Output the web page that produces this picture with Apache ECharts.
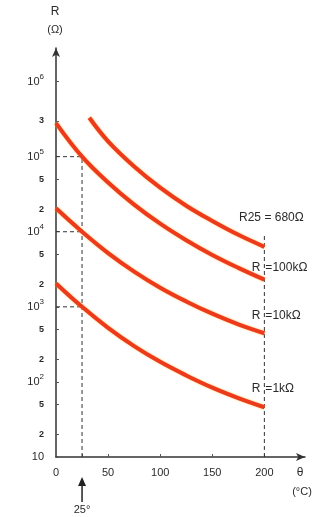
<!DOCTYPE html>
<html>
<head>
<meta charset="utf-8">
<script src="https://cdn.jsdelivr.net/npm/echarts@6/dist/echarts.min.js"></script>
<style>
html,body{margin:0;padding:0;background:#fff;}
#c{width:320px;height:517px;}
</style>
</head>
<body>
<div id="c"></div>
<script>
// temperatures (°C)
var temps = [0, 25, 50, 75, 100, 125, 150, 175, 200];
var tempsTop = [32, 50, 75, 100, 125, 150, 175, 200];
// resistance values (Ω)
var r680 = [330000, 160000, 74000, 38600, 22200, 13900, 9100, 6300];
var r100k = [280000, 100000, 45300, 23000, 12800, 7700, 4900, 3300, 2300];
var r10k = [20500, 10000, 5200, 2950, 1800, 1180, 810, 585, 445];
var r1k = [2050, 1000, 525, 300, 185, 122, 84, 61, 46];
// tick values and labels (base / exponent)
var yTickValues = [10, 20, 50, 100, 200, 500, 1000, 2000, 5000, 10000, 20000, 50000, 100000, 300000, 1000000];
var yTickBase = ['10', '2', '5', '10', '2', '5', '10', '2', '5', '10', '2', '5', '10', '3', '10'];
var yTickExp = ['', '', '', '2', '', '', '3', '', '', '4', '', '', '5', '', '6'];
var xTickValues = [0, 50, 100, 150, 200];
var xTickLabels = ['0', '50', '100', '150', '200'];
var seriesLabels = ['R25 = 680Ω', 'R =100kΩ', 'R =10kΩ', 'R =1kΩ'];

function pairs(xs, ys) { return xs.map(function (x, i) { return [x, ys[i]]; }); }

var curveStyle = {
  color: '#ee3a1c', width: 4,
  shadowColor: 'rgba(255,170,40,0.8)', shadowBlur: 2
};
function curve(data) {
  return { type: 'line', data: data, smooth: 0.4, symbol: 'none', lineStyle: curveStyle, z: 3, silent: true };
}
var dashStyle = { color: '#333', width: 1, type: [4, 3] };
function dash(data) {
  return { type: 'line', data: data, symbol: 'none', lineStyle: dashStyle, z: 2, silent: true };
}

var chart = echarts.init(document.getElementById('c'), null, { renderer: 'canvas' });
var txt = '#2a2a2a';
var font = 'Liberation Sans, Arial, sans-serif';

chart.setOption({
  animation: false,
  backgroundColor: '#fff',
  grid: { left: 56, right: 15, top: 48, bottom: 60 },
  xAxis: {
    type: 'value', min: 0, max: 239,
    axisLine: { show: true, lineStyle: { color: '#333', width: 1.5 }, symbol: ['none', 'arrow'], symbolSize: [6, 9] },
    axisTick: { show: true, inside: true, length: 3, customValues: [25, 50, 100, 150, 200], lineStyle: { color: '#555' } },
    axisLabel: {
      customValues: xTickValues, margin: 10, color: txt, fontSize: 11, fontFamily: font,
      formatter: function (v) { var i = xTickValues.indexOf(v); return i >= 0 ? xTickLabels[i] : ''; }
    },
    splitLine: { show: false }
  },
  yAxis: {
    type: 'log', logBase: 10, min: 10, max: 2800000,
    axisLine: { show: true, lineStyle: { color: '#333', width: 1.5 }, symbol: ['none', 'arrow'], symbolSize: [6, 9] },
    axisTick: { show: true, inside: true, length: 3, customValues: yTickValues, lineStyle: { color: '#555' } },
    axisLabel: {
      customValues: yTickValues, margin: 12, color: txt, fontFamily: font,
      formatter: function (v) {
        for (var i = 0; i < yTickValues.length; i++) {
          if (Math.abs(yTickValues[i] - v) / yTickValues[i] < 1e-6) {
            if (yTickExp[i]) return '{b|' + yTickBase[i] + '}{s|' + yTickExp[i] + '}';
            if (yTickBase[i] === '10') return '{b|10}';
            return '{m|' + yTickBase[i] + '}';
          }
        }
        return '';
      },
      rich: {
        b: { fontSize: 11, fontFamily: font, color: txt, lineHeight: 14 },
        s: { fontSize: 8, fontFamily: font, color: txt, verticalAlign: 'bottom', padding: [0, 0, 8, 0], lineHeight: 14 },
        m: { fontSize: 9, fontFamily: font, color: txt, fontWeight: 'bold', lineHeight: 14 }
      }
    },
    splitLine: { show: false }
  },
  series: [
    curve(pairs(tempsTop, r680)),
    curve(pairs(temps, r100k)),
    curve(pairs(temps, r10k)),
    curve(pairs(temps, r1k)),
    dash([[25, 10], [25, 100000]]),
    dash([[0, 100000], [25, 100000]]),
    dash([[0, 10000], [25, 10000]]),
    dash([[0, 1000], [25, 1000]]),
    dash([[200, 10], [200, 9000]])
  ]
});

function px(x, y) { return chart.convertToPixel({ gridIndex: 0 }, [x, y]); }
var endTop = px(200, r680[r680.length - 1]);
var end100 = px(200, r100k[r100k.length - 1]);
var end10 = px(200, r10k[r10k.length - 1]);
var end1 = px(200, r1k[r1k.length - 1]);
var p25 = px(25, 10);

function label(text, x, y, align, size) {
  return { type: 'text', x: x, y: y, style: { text: text, fill: txt, font: (size || 11) + 'px ' + font, align: align || 'left', verticalAlign: 'middle' }, z: 10 };
}
function rLabel(rest, yy) {
  return [label('R', end1[0] - 4, yy, 'right', 12), label(rest.replace('R ', ''), end1[0] + 1, yy, 'left', 12)];
}
var g = [
  label('R', 55, 12, 'center', 12),
  label('(Ω)', 55, 30, 'center', 11),
  label(seriesLabels[0], endTop[0] + 7, endTop[1] - 29, 'center', 12),
  label('θ', 300, 473, 'center', 12),
  label('(°C)', 302, 492, 'center', 11),
  label('25°', p25[0], 510, 'center', 11),
  { type: 'line', shape: { x1: p25[0], y1: 502, x2: p25[0], y2: 482 }, style: { stroke: '#222', lineWidth: 1.5 } },
  { type: 'polygon', shape: { points: [[p25[0] - 4, 486], [p25[0] + 4, 486], [p25[0], 477]] }, style: { fill: '#222' } }
];
g = g.concat(rLabel(seriesLabels[1], end100[1] - 12));
g = g.concat(rLabel(seriesLabels[2], end10[1] - 18));
g = g.concat(rLabel(seriesLabels[3], end1[1] - 19));
chart.setOption({ graphic: g });
</script>
</body>
</html>
